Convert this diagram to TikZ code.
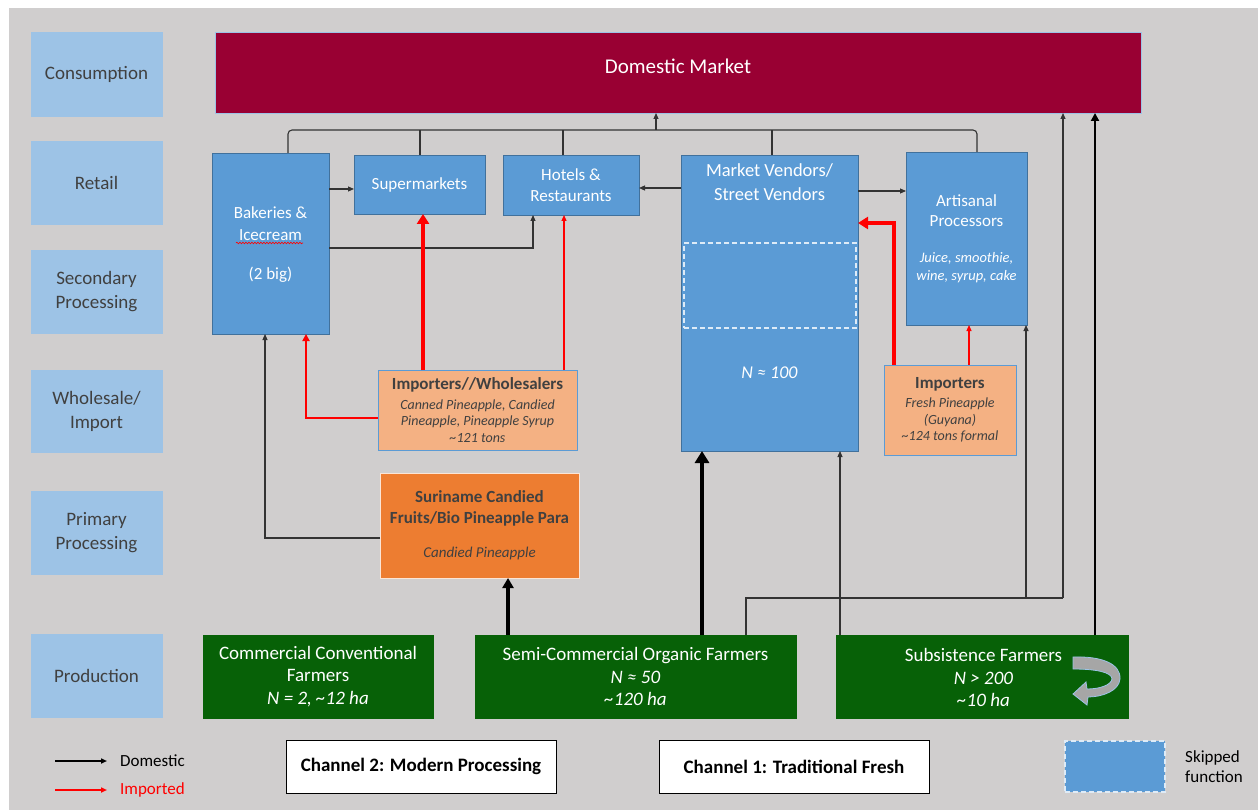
\documentclass[tikz,border=0pt]{standalone}
\usepackage{fontspec}
\setmainfont{Carlito}
\usetikzlibrary{arrows.meta,decorations.pathmorphing}
\definecolor{bgc}{HTML}{D0CECE}
\definecolor{labc}{HTML}{9DC3E6}
\definecolor{dmc}{HTML}{990033}
\definecolor{bluec}{HTML}{5B9BD5}
\definecolor{blueb}{HTML}{41719C}
\definecolor{peach}{HTML}{F4B183}
\definecolor{orangec}{HTML}{ED7D31}
\definecolor{greenc}{HTML}{076107}
\definecolor{txtc}{HTML}{404040}
\definecolor{skipc}{HTML}{DEEBF7}
\definecolor{linec}{HTML}{333333}
\newcommand\fz[2]{\fontsize{#1}{#2}\selectfont}
\begin{document}
\begin{tikzpicture}[x=1pt,y=-1pt,
  box/.style={rectangle, inner sep=0pt, outer sep=0pt},
  labbox/.style={box, fill=labc, draw=labc, text=txtc, align=center, font=\fz{19}{24}, minimum width=131pt},
  bbox/.style={box, fill=bluec, draw=blueb, line width=0.8pt, text=white, align=center},
  pbox/.style={box, fill=peach, draw=bluec, line width=1pt},
  gbox/.style={box, fill=greenc, draw=greenc, text=white, align=center, font=\fz{19}{22.5}},
  wt/.style={inner sep=0pt, text=white, align=center},
  dt/.style={inner sep=0pt, text=txtc, align=center},
  skipbox/.style={box, draw=skipc, line width=1.1pt, dash pattern=on 5pt off 3pt},
  chbox/.style={box, fill=white, draw=black, line width=0.8pt, font=\fz{19}{22}\bfseries, minimum width=270pt, minimum height=53pt},
  conn/.style={draw=linec, line width=1.1pt},
  arr/.style={-{Triangle[length=6pt,width=5pt]}},
  redthin/.style={draw=red, line width=1.2pt, -{Triangle[length=6pt,width=5pt]}},
  redmid/.style={draw=red, line width=2.2pt, -{Triangle[length=7pt,width=7pt]}},
  redthick/.style={draw=red, line width=3.5pt, -{Triangle[length=10pt,width=12pt]}},
  blk2/.style={draw=black, line width=2pt, -{Triangle[length=8pt,width=8pt]}},
  blk3/.style={draw=black, line width=3.2pt, -{Triangle[length=10pt,width=11pt]}},
  blk4/.style={draw=black, line width=4.2pt, -{Triangle[length=12pt,width=14pt]}}
]
% background
\fill[white] (0,0) rectangle (1258,810);
\fill[bgc] (9,8) rectangle (1258,810);
\useasboundingbox (0,0) rectangle (1258,810);

% level labels
\node[labbox, minimum height=84pt] (lab1) at (96.5,74) {Consumption};
\node[labbox, minimum height=83pt] (lab2) at (96.5,182.5) {Retail};
\node[labbox, minimum height=83pt] (lab3) at (96.5,291.5) {Secondary\\Processing};
\node[labbox, minimum height=82pt] (lab4) at (96.5,411) {Wholesale/\\Import};
\node[labbox, minimum height=83pt] (lab5) at (96.5,532.5) {Primary\\Processing};
\node[labbox, minimum height=83pt] (lab6) at (96.5,675.5) {Production};

% domestic market
\node[box, fill=dmc, draw=labc, line width=0.8pt, minimum width=926pt, minimum height=81pt] (dm) at (678,72.5) {};
\node[wt, font=\fz{21}{25}] (dmt) at (678,66) {Domestic Market};

% retail boxes
\node[bbox, minimum width=117pt, minimum height=181pt] (bak) at (270.5,243.5) {};
\node[wt, font=\fz{17}{22}] (bakt) at (270.5,224) {Bakeries \&\\Icecream};
\node[wt, font=\fz{17}{22}] (bakn) at (270.5,275) {(2 big)};
\draw[red, line width=0.6pt, decorate, decoration={snake, amplitude=0.8pt, segment length=3pt}] (236,243) -- (303,243);

\node[bbox, minimum width=131pt, minimum height=59pt, font=\fz{17}{21}] (sup) at (419.5,184.5) {Supermarkets};
\node[bbox, minimum width=136pt, minimum height=60pt, font=\fz{17}{21}] (hot) at (571,185) {Hotels \&\\Restaurants};

\node[bbox, minimum width=177pt, minimum height=296pt] (mv) at (769.5,303) {};
\node[wt, font=\fz{18.5}{24}] (mvt) at (769.5,182) {Market Vendors/\\Street Vendors};
\node[skipbox, minimum width=172pt, minimum height=85pt] (mvskip) at (770,285.5) {};
\node[wt, font=\fz{18}{22}\itshape] (mvn) at (769.5,373) {N ≈ 100};

\node[bbox, minimum width=121pt, minimum height=173pt] (art) at (966.5,238.5) {};
\node[wt, font=\fz{17}{20}] (artt) at (966.5,211) {Artisanal\\Processors};
\node[wt, font=\fz{14.5}{18}\itshape] (arti) at (966.5,268) {Juice, smoothie,\\wine, syrup, cake};

% importers
\node[pbox, minimum width=199pt, minimum height=80pt] (iw) at (477.5,410) {};
\node[dt, font=\fz{17}{20}\bfseries] (iwt) at (477.5,385) {Importers//Wholesalers};
\node[dt, font=\fz{14}{16.5}\itshape] (iwi) at (477.5,421) {Canned Pineapple, Candied\\Pineapple, Pineapple Syrup\\\textasciitilde121 tons};

\node[pbox, minimum width=132pt, minimum height=90pt] (imp) at (950,410) {};
\node[dt, font=\fz{17}{20}\bfseries] (impt) at (950,384) {Importers};
\node[dt, font=\fz{14}{16.5}\itshape] (impi) at (950,420) {Fresh Pineapple\\(Guyana)\\\textasciitilde124 tons formal};

% primary processing
\node[box, fill=orangec, draw=white!80!orangec, line width=1pt, minimum width=199pt, minimum height=105pt] (sur) at (479.5,525.5) {};
\node[dt, font=\fz{17}{21}\bfseries] (surt) at (479.5,508.5) {Suriname Candied\\Fruits/Bio Pineapple Para};
\node[dt, font=\fz{15}{18}\itshape] (suri) at (479.5,553) {Candied Pineapple};

% production
\node[gbox, minimum width=230pt, minimum height=83pt] (ccf) at (318,676.5) {Commercial Conventional\\Farmers\\\textit{N = 2, \textasciitilde12 ha}};
\node[gbox, minimum width=321pt, minimum height=83pt] (scf) at (635.5,676.5) {Semi-Commercial Organic Farmers\\\textit{N ≈ 50}\\\textit{\textasciitilde120 ha}};
\node[gbox, minimum width=292pt, minimum height=83pt] (sub) at (982,676.5) {};
\node[wt, font=\fz{19}{22.5}] (subt) at (983.5,677.5) {Subsistence Farmers\\\textit{N > 200}\\\textit{\textasciitilde10 ha}};
% circular arrow
\filldraw[fill=black!35, draw=labc, line width=0.8pt] (1073,657) .. controls (1102,656) and (1121,664) .. (1120,679) .. controls (1119,691) and (1102,697) .. (1088,697) -- (1087,705) -- (1073,694) -- (1086,682) -- (1087,689) .. controls (1100,689) and (1111,685) .. (1112,679) .. controls (1112,672) and (1095,669) .. (1073,669) -- cycle;

% ---------- connectors ----------
\coordinate (bus) at (656,130);
\draw[conn, rounded corners=4pt] ([xshift=17.5pt]bak.north) |- (bus) -| ([xshift=10.5pt]art.north);
\coordinate (r1) at (420,130);
\coordinate (r2) at (563,130);
\coordinate (r3) at (772,130);
\draw[conn] (r1 |- sup.north) -- (r1);
\draw[conn] (r2 |- hot.north) -- (r2);
\draw[conn] (r3 |- mv.north) -- (r3);
\draw[conn, arr] (bus) -- (bus |- dm.south);

\coordinate (y189) at (340,189);
\draw[conn, arr] (bak.east |- y189) -- (sup.west |- y189);
\coordinate (c3) at (533,248);
\draw[conn, arr] (bak.east |- c3) -- (c3) -- (c3 |- hot.south);
\coordinate (y188) at (660,188);
\draw[conn, arr] (mv.west |- y188) -- (hot.east |- y188);
\coordinate (y191) at (880,191);
\draw[conn, arr] (mv.east |- y191) -- (art.west |- y191);

% imported flows
\coordinate (x423) at (423,300);
\draw[redthick] (x423 |- iw.north) -- (x423 |- sup.south);
\coordinate (x564) at (564,300);
\draw[redthin] (x564 |- iw.north) -- (x564 |- hot.south);
\coordinate (r3c) at (306,418);
\draw[redmid] (iw.west |- r3c) -- (r3c) -- (r3c |- bak.south);
\coordinate (r4c) at (894,223);
\draw[redthick] (r4c |- imp.north) -- (r4c) -- (mv.east |- r4c);
\coordinate (x969) at (969,340);
\draw[redthin] (x969 |- imp.north) -- (x969 |- art.south);

% domestic flows
\coordinate (k1c) at (265,538);
\draw[conn, arr] (sur.west |- k1c) -- (k1c) -- (k1c |- bak.south);
\coordinate (x508) at (508,600);
\draw[blk3] (x508 |- scf.north) -- (x508 |- sur.south);
\coordinate (x702) at (702,500);
\draw[blk4] (x702 |- scf.north) -- (x702 |- mv.south);
\coordinate (j1) at (746,598);
\coordinate (j2) at (1063,598);
\coordinate (j3) at (1026,598);
\draw[conn] (j1 |- scf.north) -- (j1) -- (j2);
\draw[conn, arr] (j2) -- (j2 |- dm.south);
\draw[conn, arr] (j3) -- (j3 |- art.south);
\coordinate (x840) at (840,500);
\draw[conn, arr] (x840 |- sub.north) -- (x840 |- mv.south);
\coordinate (x1095) at (1095,400);
\draw[blk2] (x1095 |- sub.north) -- (x1095 |- dm.south);

% ---------- legend ----------
\coordinate (ld1) at (55,761);
\coordinate (ld2) at (107,761);
\draw[draw=black, line width=1.6pt, -{Triangle[length=6pt,width=5pt]}] (ld1) -- (ld2);
\node[anchor=west, inner sep=0pt, font=\fz{17}{20}] (ldt) at (120,761) {Domestic};
\coordinate (li1) at (55,790);
\coordinate (li2) at (107,790);
\draw[draw=red, line width=1.6pt, -{Triangle[length=6pt,width=5pt]}] (li1) -- (li2);
\node[anchor=west, inner sep=0pt, font=\fz{17}{20}, text=red] (lit) at (120,790) {Imported};

\node[chbox] (ch2) at (421,766.5) {Channel 2: Modern Processing};
\node[chbox] (ch1) at (794,766.5) {Channel 1: Traditional Fresh};

\node[box, fill=bluec, minimum width=100pt, minimum height=51pt] (skipfill) at (1115,766.5) {};
\node[skipbox, minimum width=100pt, minimum height=51pt] (skip) at (1115,766.5) {};
\node[anchor=west, inner sep=0pt, align=left, font=\fz{17}{20}] (skipt) at (1185,766.5) {Skipped\\function};
\end{tikzpicture}
\end{document}
